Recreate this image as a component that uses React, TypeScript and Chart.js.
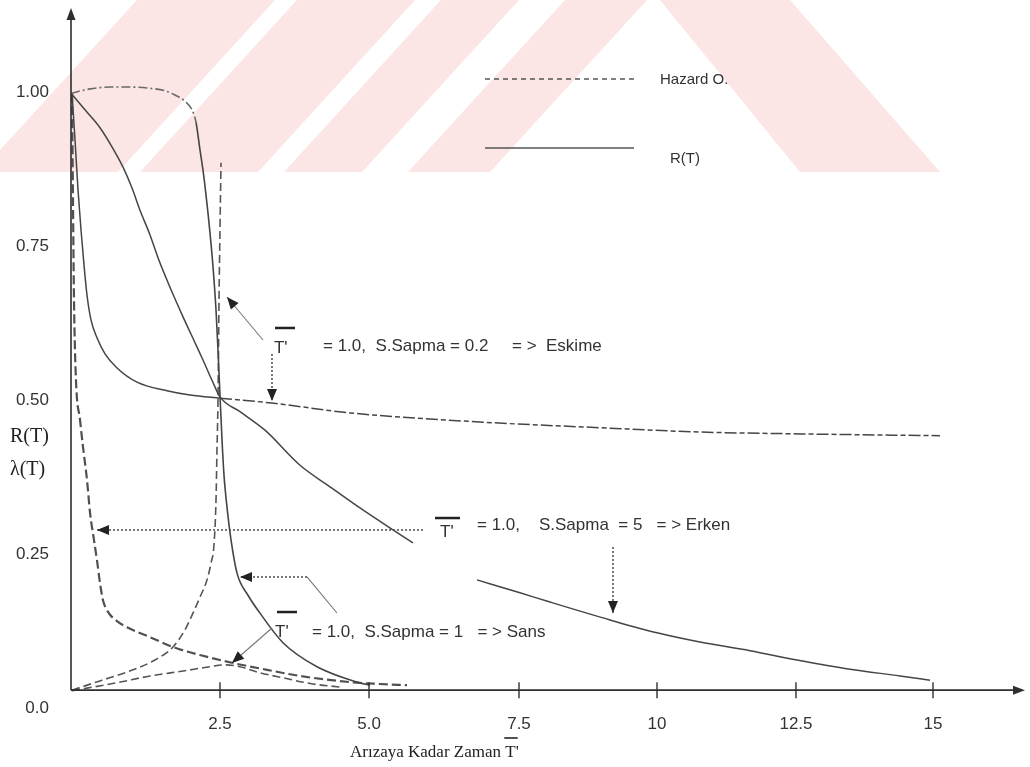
import React, { useEffect, useRef } from 'react';
import { Chart, registerables } from 'chart.js';

Chart.register(...registerables);

// ---------------- data (x = time, y = R(T) / λ(T)) ----------------
const xTickValues = [2.483, 4.967, 7.467, 9.767, 12.083, 14.367];
const xTickLabels = ['2.5', '5.0', '7.5', '10', '12.5', '15'];
const yTickValues = [0, 0.25, 0.5, 0.75, 1.0];
const yTickLabels = ['0.0', '0.25', '0.50', '0.75', '1.00'];

// R(T), S.Sapma = 0.2 (flat at 1, sudden drop)
const rSapma02: [number, number][] = [
  [0, 0.998], [0.317, 1.005], [0.65, 1.008], [0.983, 1.008], [1.317, 1.006], [1.567, 1.002],
  [1.733, 0.995], [1.9, 0.985], [2.017, 0.971], [2.083, 0.951], [2.15, 0.906], [2.2, 0.873],
  [2.25, 0.833], [2.317, 0.771], [2.367, 0.716], [2.417, 0.646], [2.45, 0.581], [2.483, 0.508],
  [2.517, 0.435], [2.55, 0.378], [2.6, 0.326], [2.667, 0.273], [2.767, 0.219], [2.95, 0.183],
  [3.15, 0.154], [3.533, 0.106], [4.1, 0.067], [4.767, 0.042], [4.983, 0.037],
];

// R(T), S.Sapma = 5 (long slow decay)
const rSapma5: [number, number | null][] = [
  [0, 0.998], [0.233, 0.971], [0.483, 0.942], [0.683, 0.911], [0.867, 0.878], [1.017, 0.844],
  [1.15, 0.808], [1.317, 0.768], [1.45, 0.731], [1.65, 0.683], [1.867, 0.635], [2.067, 0.593],
  [2.2, 0.565], [2.35, 0.532], [2.483, 0.505], [2.817, 0.481], [3.233, 0.451], [3.817, 0.394],
  [4.317, 0.359], [4.767, 0.328], [5.367, 0.289], [5.7, 0.268], [6.2, null],
  [6.767, 0.208], [7.483, 0.187], [7.983, 0.172], [8.983, 0.143], [9.767, 0.122], [10.483, 0.107],
  [11.317, 0.093], [12.1, 0.078], [12.983, 0.063], [13.817, 0.052], [14.317, 0.045],
];

// R(T), S.Sapma = 1 (steep start, levels near 0.45)
const rSapma1: [number, number][] = [
  [0.017, 0.998], [0.067, 0.922], [0.117, 0.841], [0.167, 0.776], [0.217, 0.719], [0.267, 0.67],
  [0.333, 0.63], [0.433, 0.601], [0.567, 0.575], [0.767, 0.552], [1.1, 0.529], [1.6, 0.515],
  [1.983, 0.508], [2.483, 0.503], [3.35, 0.495], [4.65, 0.479], [6.867, 0.464], [8.817, 0.455],
  [10.483, 0.448], [12.15, 0.445], [14.483, 0.442],
];

// Hazard, S.Sapma = 5 (Erken)
const hSapma5: [number, number][] = [
  [0.017, 0.998], [0.033, 0.825], [0.05, 0.662], [0.083, 0.532], [0.15, 0.468], [0.2, 0.424],
  [0.267, 0.37], [0.317, 0.317], [0.383, 0.273], [0.433, 0.24], [0.483, 0.203], [0.533, 0.175],
  [0.617, 0.156], [0.767, 0.141], [0.933, 0.131], [1.317, 0.115], [1.7, 0.099], [2.15, 0.086],
  [2.7, 0.073], [3.267, 0.062], [3.817, 0.052], [4.65, 0.042], [5.15, 0.039], [5.6, 0.037],
];

// Hazard, S.Sapma = 0.2 (Eskime)
const hSapma02: [number, number][] = [
  [0.017, 0.029], [0.483, 0.044], [1.033, 0.062], [1.4, 0.078], [1.7, 0.099], [1.9, 0.127],
  [2.033, 0.154], [2.15, 0.18], [2.267, 0.208], [2.333, 0.235], [2.383, 0.265], [2.417, 0.338],
  [2.433, 0.419], [2.45, 0.5], [2.467, 0.662], [2.483, 0.776], [2.5, 0.885],
];

// Hazard, S.Sapma = 1 (Sans)
const hSapma1: [number, number][] = [
  [0.017, 0.028], [0.767, 0.041], [1.317, 0.052], [1.867, 0.06], [2.317, 0.067], [2.567, 0.07],
  [2.817, 0.067], [3.117, 0.058], [3.533, 0.049], [4.033, 0.039], [4.483, 0.034],
];

// ---------------- styles / decorations ----------------
const LINE = '#454545';
const TEXT = '#333333';
const PINK = '#fbe5e5';
const SANS = '"Liberation Sans", Arial, sans-serif';
const SERIF = '"Liberation Serif", "Times New Roman", serif';
const X_AXIS_LEVEL = 0.029; // y-value where the drawn horizontal axis sits

const WATERMARK: number[][][] = [
  [[-20, 172], [118, 172], [275, 0], [137, 0]],
  [[140, 172], [258, 172], [415, 0], [297, 0]],
  [[284, 172], [362, 172], [519, 0], [441, 0]],
  [[408, 172], [490, 172], [647, 0], [565, 0]],
  [[800, 172], [940, 172], [790, 0], [660, 0]],
];

const NOTES = [
  { t: [3.383, 0.5844], bar: [3.4, 3.733, 0.6169], text: '= 1.0,  S.Sapma = 0.2     = >  Eskime', at: [4.2, 0.5877] },
  { t: [6.15, 0.2857], bar: [6.067, 6.483, 0.3084], text: '= 1.0,    S.Sapma  = 5   = > Erken', at: [6.767, 0.2971] },
  { t: [3.4, 0.1234], bar: [3.433, 3.767, 0.1558], text: '= 1.0,  S.Sapma = 1   = > Sans', at: [4.017, 0.1234] },
];

const ARROWS: { pts: number[][]; dash: number[]; head: boolean }[] = [
  { pts: [[3.2, 0.5974], [2.6, 0.6672]], dash: [], head: true },
  { pts: [[3.35, 0.5747], [3.35, 0.4984]], dash: [2, 2], head: true },
  { pts: [[5.867, 0.289], [0.433, 0.289]], dash: [2, 2], head: true },
  { pts: [[9.033, 0.2614], [9.033, 0.1542]], dash: [2, 2], head: true },
  { pts: [[4.433, 0.1542], [3.933, 0.2127]], dash: [], head: false },
  { pts: [[3.933, 0.2127], [2.817, 0.2127]], dash: [2, 2], head: true },
  { pts: [[3.35, 0.1299], [2.683, 0.0731]], dash: [], head: true },
];

const LEGEND = [
  { from: [6.9, 1.0211], to: [9.383, 1.0211], dash: [5, 4], label: 'Hazard O.', at: [9.817, 1.0195] },
  { from: [6.9, 0.9091], to: [9.383, 0.9091], dash: [], label: 'R(T)', at: [9.983, 0.8912] },
];

const toPts = (arr: [number, number | null][]) => arr.map(([x, y]) => ({ x, y }));

function head(ctx: CanvasRenderingContext2D, fx: number, fy: number, tx: number, ty: number, len = 11, half = 4.5) {
  const a = Math.atan2(ty - fy, tx - fx);
  ctx.beginPath();
  ctx.moveTo(tx, ty);
  ctx.lineTo(tx - len * Math.cos(a) + half * Math.sin(a), ty - len * Math.sin(a) - half * Math.cos(a));
  ctx.lineTo(tx - len * Math.cos(a) - half * Math.sin(a), ty - len * Math.sin(a) + half * Math.cos(a));
  ctx.closePath();
  ctx.fill();
}

const decorPlugin = {
  id: 'decor',
  beforeDraw(chart: any) {
    const { ctx } = chart;
    ctx.save();
    ctx.fillStyle = '#ffffff';
    ctx.fillRect(0, 0, chart.width, chart.height);
    ctx.fillStyle = PINK;
    for (const poly of WATERMARK) {
      ctx.beginPath();
      poly.forEach(([x, y], i) => (i ? ctx.lineTo(x, y) : ctx.moveTo(x, y)));
      ctx.closePath();
      ctx.fill();
    }
    ctx.restore();
  },
  afterDatasetsDraw(chart: any) {
    const { ctx, chartArea } = chart;
    const xs = chart.scales.x;
    const ys = chart.scales.y;
    const x0 = xs.getPixelForValue(0);
    const yAxis = ys.getPixelForValue(X_AXIS_LEVEL);
    ctx.save();
    ctx.strokeStyle = '#2f2f2f';
    ctx.fillStyle = '#2f2f2f';
    ctx.lineWidth = 1.6;
    ctx.beginPath();
    ctx.moveTo(x0, yAxis);
    ctx.lineTo(x0, chartArea.top + 6);
    ctx.moveTo(x0, yAxis);
    ctx.lineTo(chartArea.right - 6, yAxis);
    ctx.stroke();
    head(ctx, x0, yAxis, x0, chartArea.top - 2, 12, 4.5);
    head(ctx, x0, yAxis, chartArea.right + 2, yAxis, 12, 4.5);
    ctx.lineWidth = 1.4;
    for (const v of xTickValues) {
      const p = xs.getPixelForValue(v);
      ctx.beginPath();
      ctx.moveTo(p, yAxis - 8);
      ctx.lineTo(p, yAxis + 8);
      ctx.stroke();
    }
    ctx.restore();
  },
  afterDraw(chart: any) {
    const { ctx } = chart;
    const xs = chart.scales.x;
    const ys = chart.scales.y;
    const P = (x: number, y: number) => [xs.getPixelForValue(x), ys.getPixelForValue(y)];
    ctx.save();

    // legend
    for (const l of LEGEND) {
      const [ax, ay] = P(l.from[0], l.from[1]);
      const [bx, by] = P(l.to[0], l.to[1]);
      ctx.strokeStyle = '#555';
      ctx.lineWidth = 1.6;
      ctx.setLineDash(l.dash);
      ctx.beginPath();
      ctx.moveTo(ax, ay);
      ctx.lineTo(bx, by);
      ctx.stroke();
      ctx.setLineDash([]);
      const [tx, ty] = P(l.at[0], l.at[1]);
      ctx.fillStyle = TEXT;
      ctx.font = `15px ${SANS}`;
      ctx.textAlign = 'left';
      ctx.textBaseline = 'middle';
      ctx.fillText(l.label, tx, ty);
    }

    // arrows
    for (const a of ARROWS) {
      const pts = a.pts.map(([x, y]) => P(x, y));
      ctx.strokeStyle = a.dash.length ? '#555' : '#777';
      ctx.fillStyle = '#222';
      ctx.lineWidth = a.dash.length ? 1.6 : 1.1;
      ctx.setLineDash(a.dash);
      ctx.beginPath();
      pts.forEach(([x, y], i) => (i ? ctx.lineTo(x, y) : ctx.moveTo(x, y)));
      ctx.stroke();
      ctx.setLineDash([]);
      if (a.head) {
        const n = pts.length;
        head(ctx, pts[n - 2][0], pts[n - 2][1], pts[n - 1][0], pts[n - 1][1], 12, 5);
      }
    }

    // annotation texts
    for (const n of NOTES) {
      ctx.fillStyle = TEXT;
      ctx.font = `17px ${SANS}`;
      ctx.textAlign = 'left';
      ctx.textBaseline = 'middle';
      const [tx, ty] = P(n.t[0], n.t[1]);
      ctx.fillText("T'", tx, ty);
      const [ax, ay] = P(n.at[0], n.at[1]);
      ctx.fillText(n.text, ax, ay);
      const [b1, by] = P(n.bar[0], n.bar[2]);
      const [b2] = P(n.bar[1], n.bar[2]);
      ctx.strokeStyle = '#222';
      ctx.lineWidth = 2.5;
      ctx.beginPath();
      ctx.moveTo(b1, by);
      ctx.lineTo(b2, by);
      ctx.stroke();
    }

    // axis titles
    ctx.fillStyle = '#222';
    ctx.font = `20px ${SERIF}`;
    ctx.textAlign = 'left';
    ctx.textBaseline = 'middle';
    ctx.fillText('R(T)', 10, 437);
    ctx.fillText('\u03bb(T)', 10, 470);

    ctx.font = `17px ${SERIF}`;
    const pre = 'Arızaya Kadar Zaman ';
    const xt = 350;
    ctx.fillText(pre + "T'", xt, 753);
    const w = ctx.measureText(pre).width;
    const tw = ctx.measureText('T').width;
    ctx.strokeStyle = '#222';
    ctx.lineWidth = 1.6;
    ctx.beginPath();
    ctx.moveTo(xt + w - 1, 738);
    ctx.lineTo(xt + w + tw + 2, 738);
    ctx.stroke();

    ctx.restore();
  },
};

export default function App() {
  const ref = useRef<HTMLCanvasElement>(null);

  useEffect(() => {
    const canvas = ref.current;
    if (!canvas) return;
    const solid = { borderColor: LINE, borderWidth: 1.6, pointRadius: 0, fill: false, cubicInterpolationMode: 'monotone' as const, spanGaps: false };
    const chart = new Chart(canvas, {
      type: 'line',
      data: {
        datasets: [
          {
            ...solid,
            label: 'R(T) S.Sapma = 0.2',
            data: toPts(rSapma02),
            segment: {
              borderDash: (c: any) => (c.p0.parsed.x < 2.05 ? [9, 3, 2, 3] : undefined),
              borderColor: (c: any) => (c.p0.parsed.x < 2.05 ? '#6a6a6a' : undefined),
            },
          },
          { ...solid, label: 'R(T) S.Sapma = 5', data: toPts(rSapma5), borderWidth: 1.5 },
          {
            ...solid,
            label: 'R(T) S.Sapma = 1',
            data: toPts(rSapma1),
            borderWidth: 1.5,
            segment: { borderDash: (c: any) => (c.p0.parsed.x >= 2.4 ? [12, 3, 5, 3] : undefined) },
          },
          { ...solid, label: 'Hazard S.Sapma = 5', data: toPts(hSapma5), borderWidth: 2.2, borderDash: [9, 4], borderColor: '#505050' },
          { ...solid, label: 'Hazard S.Sapma = 0.2', data: toPts(hSapma02), borderWidth: 1.6, borderDash: [8, 4], borderColor: '#555' },
          { ...solid, label: 'Hazard S.Sapma = 1', data: toPts(hSapma1), borderWidth: 1.6, borderDash: [8, 4], borderColor: '#555' },
        ],
      },
      options: {
        responsive: false,
        animation: false,
        devicePixelRatio: 1,
        layout: { padding: { top: 10, right: 7, left: 0, bottom: 0 } },
        plugins: { legend: { display: false }, tooltip: { enabled: false } },
        scales: {
          x: {
            type: 'linear',
            min: 0,
            max: 15.867,
            grid: { display: false, drawTicks: false },
            border: { display: false },
            afterBuildTicks: (s: any) => { s.ticks = xTickValues.map((v) => ({ value: v })); },
            afterFit: (s: any) => { s.height = 59; s.paddingLeft = 0; s.paddingRight = 0; },
            ticks: {
              autoSkip: false,
              maxRotation: 0,
              minRotation: 0,
              padding: 6,
              color: TEXT,
              font: { family: SANS, size: 17 },
              callback: (_v: any, i: number) => xTickLabels[i],
            },
          },
          y: {
            type: 'linear',
            min: 0,
            max: 1.1331,
            grid: { display: false, drawTicks: false },
            border: { display: false },
            afterBuildTicks: (s: any) => { s.ticks = yTickValues.map((v) => ({ value: v })); },
            afterFit: (s: any) => { s.width = 71; s.paddingTop = 0; s.paddingBottom = 0; },
            ticks: {
              autoSkip: false,
              padding: 22,
              color: TEXT,
              font: { family: SANS, size: 17 },
              callback: (_v: any, i: number) => yTickLabels[i],
            },
          },
        },
      },
      plugins: [decorPlugin],
    } as any);
    return () => chart.destroy();
  }, []);

  return (
    <div style={{ position: 'fixed', left: 0, top: 0, width: 1030, height: 767, background: '#fff' }}>
      <canvas ref={ref} width={1030} height={767} style={{ display: 'block', width: 1030, height: 767 }} />
    </div>
  );
}
